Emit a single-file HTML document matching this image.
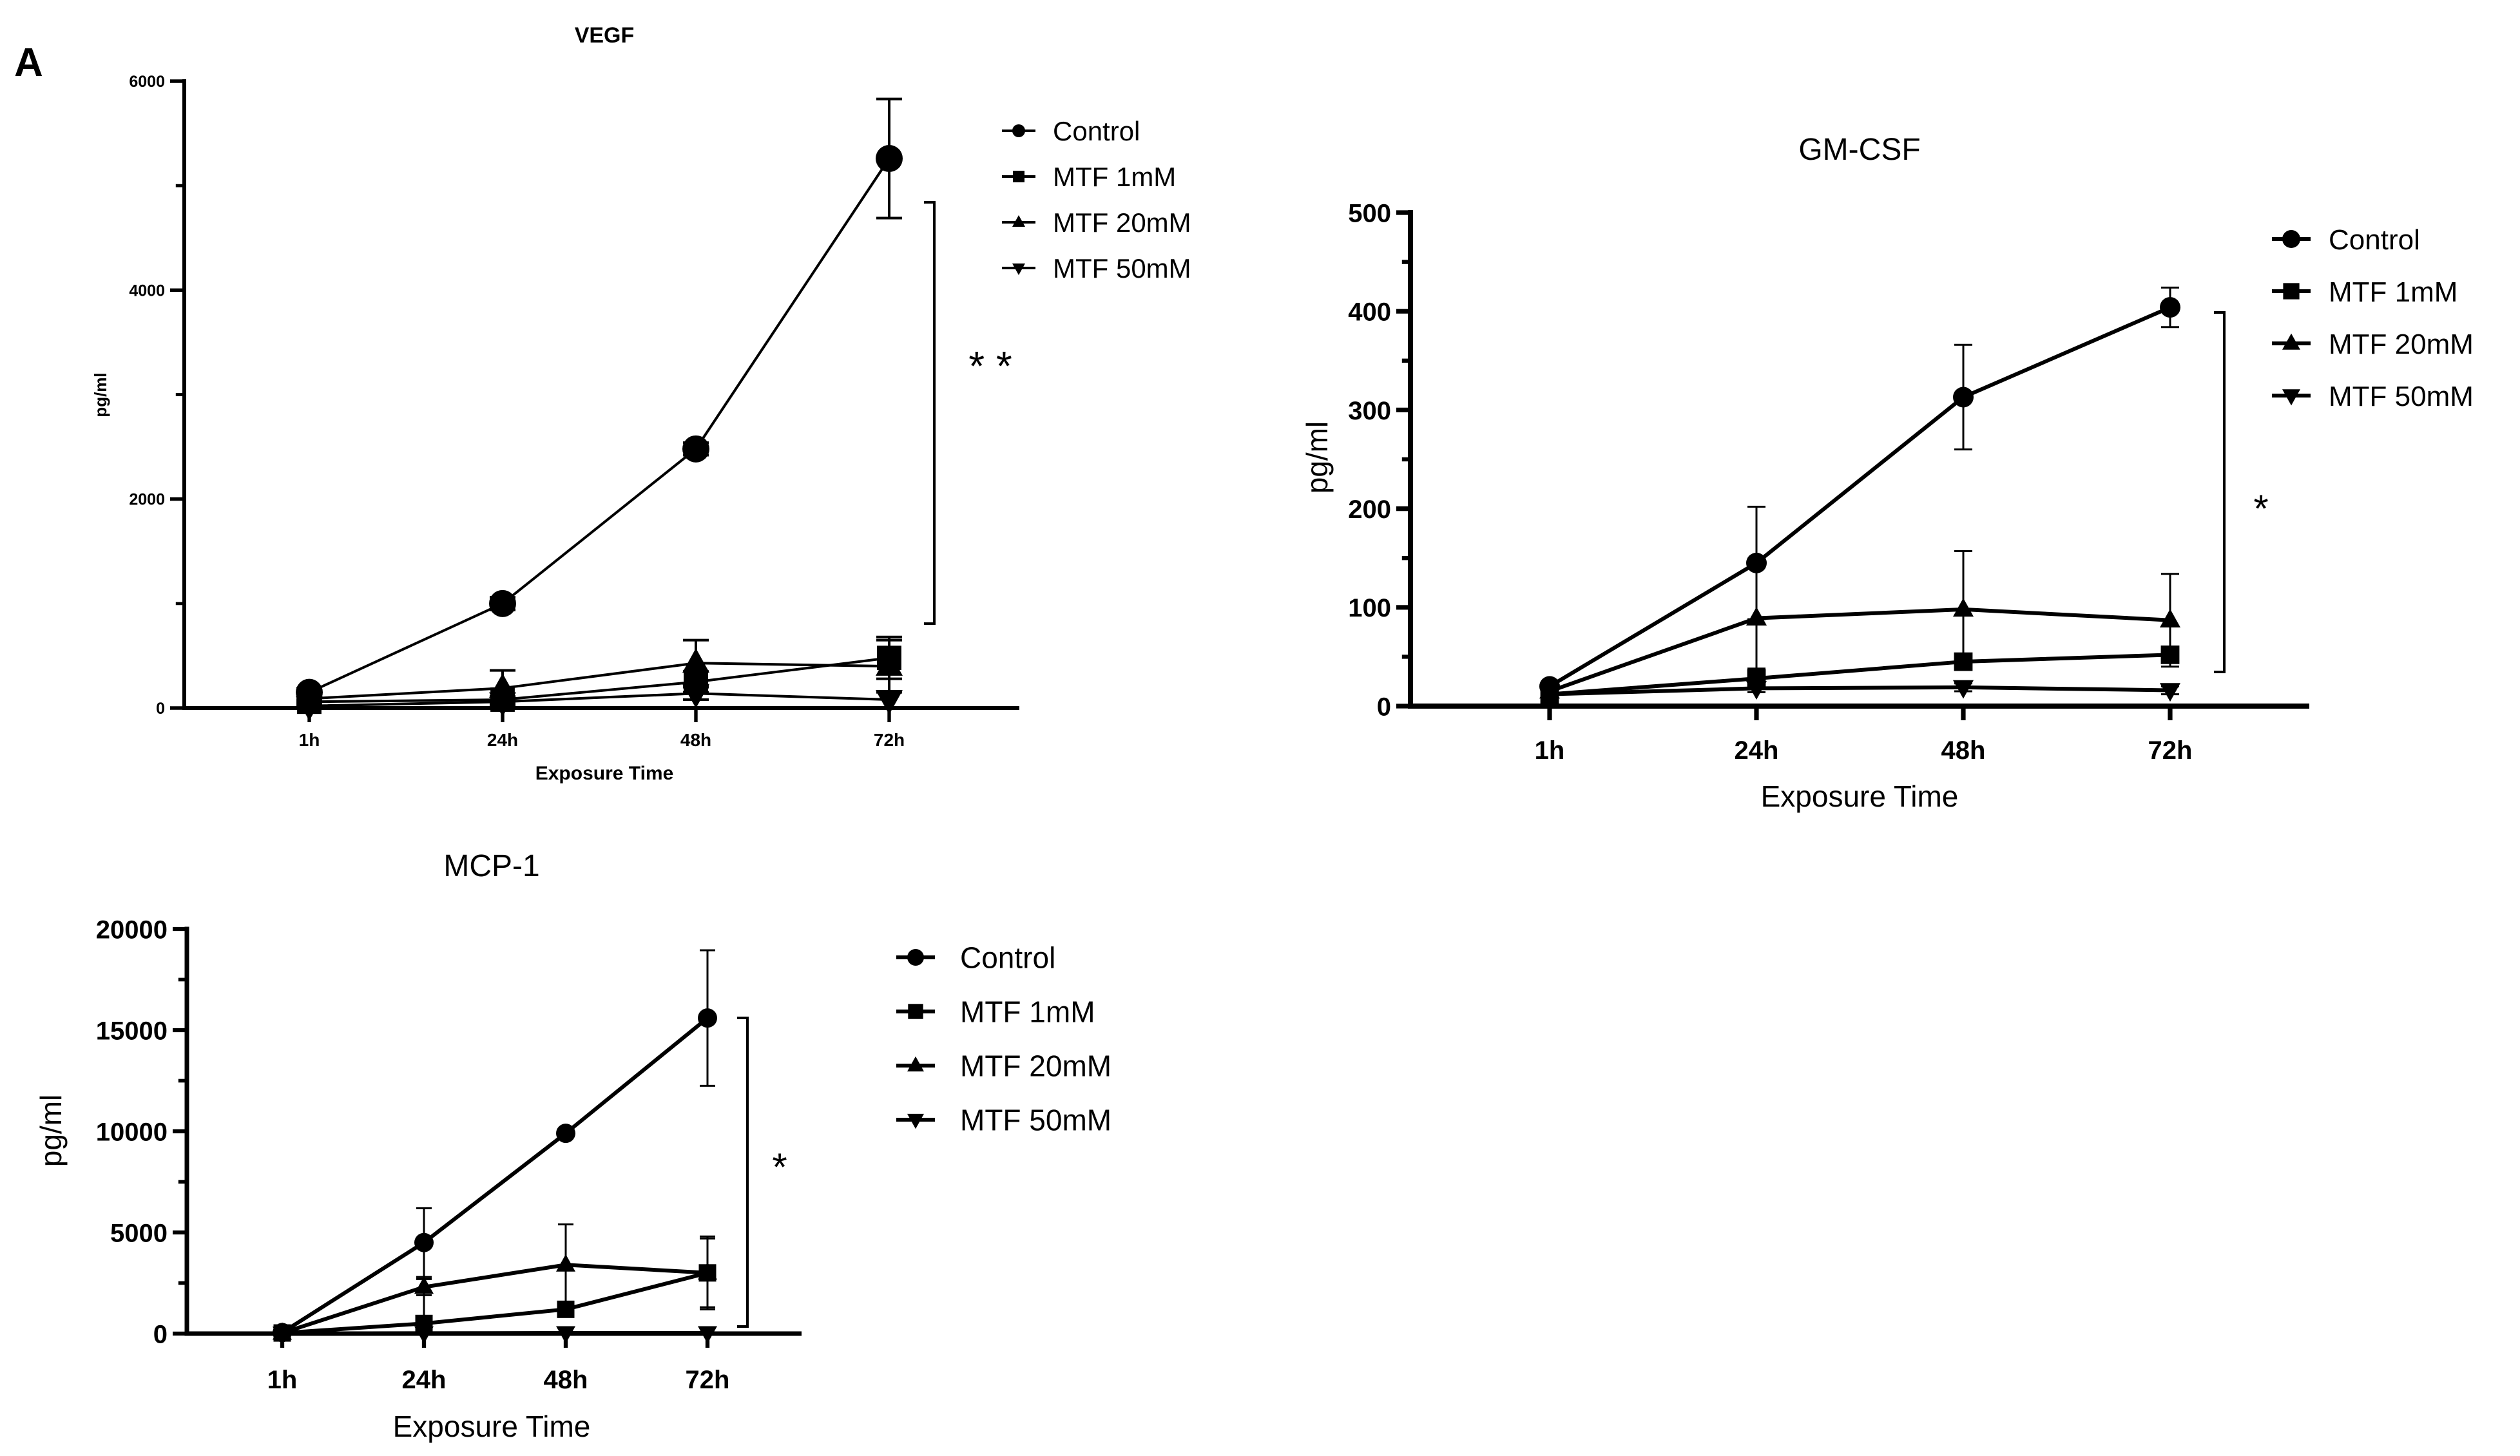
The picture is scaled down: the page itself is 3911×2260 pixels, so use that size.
<!DOCTYPE html>
<html><head><meta charset="utf-8">
<style>
html,body{margin:0;padding:0;background:#fff;}
svg{display:block;font-family:"Liberation Sans",Arial,sans-serif;}
</style></head>
<body>
<svg id="fig" width="3911" height="2260" viewBox="0 0 3911 2260" xmlns="http://www.w3.org/2000/svg">
<text x="22" y="118" font-size="62" font-weight="bold">A</text>
</svg>
<script>
const categories = ["1h","24h","48h","72h"];
const seriesNames = ["Control","MTF 1mM","MTF 20mM","MTF 50mM"];
const markers = ["circle","square","triangle","down"];

const vegfControl = [150, 1000, 2480, 5260];
const vegfControlErr = [40, 60, 60, 570];
const vegf1 = [60, 80, 250, 480];
const vegf1Err = [20, 30, 100, 200];
const vegf20 = [90, 190, 430, 400];
const vegf20Err = [30, 170, 220, 250];
const vegf50 = [20, 60, 140, 80];
const vegf50Err = [10, 20, 60, 80];
const vegfTicks = [0, 2000, 4000, 6000];

const gmControl = [20, 145, 313, 404];
const gmControlErr = [4, 57, 53, 20];
const gm1 = [12, 28, 45, 52];
const gm1Err = [3, 10, 8, 8];
const gm20 = [15, 89, 98, 87];
const gm20Err = [3, 60, 59, 47];
const gm50 = [12, 18, 19, 16];
const gm50Err = [3, 4, 4, 4];
const gmTicks = [0, 100, 200, 300, 400, 500];

const mcpControl = [50, 4500, 9900, 15600];
const mcpControlErr = [20, 1700, 200, 3350];
const mcp1 = [30, 500, 1200, 3000];
const mcp1Err = [10, 2200, 300, 1700];
const mcp20 = [30, 2300, 3400, 3000];
const mcp20Err = [10, 400, 2000, 1800];
const mcp50 = [10, 20, 30, 30];
const mcp50Err = [5, 5, 5, 5];
const mcpTicks = [0, 5000, 10000, 15000, 20000];

const svg = document.getElementById('fig');
const NS = "http://www.w3.org/2000/svg";
function el(tag, attrs, parent){
  const e = document.createElementNS(NS, tag);
  for (const k in attrs) e.setAttribute(k, attrs[k]);
  (parent||svg).appendChild(e);
  return e;
}
function txt(x,y,s,size,weight,anchor,parent){
  const t = el('text',{x:x,y:y,'font-size':size,'font-weight':weight,'text-anchor':anchor},parent);
  t.textContent = s;
  return t;
}
function marker(g, type, x, y, r){
  let m;
  if (type==="circle") m = el('circle',{cx:x,cy:y,r:r,fill:'#000'},g);
  else if (type==="square") m = el('rect',{x:x-r*0.9,y:y-r*0.9,width:r*1.8,height:r*1.8,fill:'#000'},g);
  else if (type==="triangle") m = el('polygon',{points:`${x},${y-r*1.1} ${x-r},${y+r*0.7} ${x+r},${y+r*0.7}`,fill:'#000'},g);
  else m = el('polygon',{points:`${x},${y+r*1.1} ${x-r},${y-r*0.7} ${x+r},${y-r*0.7}`,fill:'#000'},g);
  return m;
}

function drawChart(c){
  const g = el('g',{});
  
  
  const ymax = c.ticks[c.ticks.length-1];
  const Y = v => c.y0 - (v/ymax)*(c.y0-c.yTop);
  const X = i => c.x0 + c.xStart + i*c.xStep;
  const t = txt(c.titleX, c.titleY, c.title, c.titleSize, c.titleWeight, 'middle', g);
  
  
  const ya = el('line',{x1:c.x0,y1:c.yTop-c.axW/2,x2:c.x0,y2:c.y0,stroke:'#000','stroke-width':c.axW},g);
  
  
  const xa = el('line',{x1:c.x0-c.axW/2,y1:c.y0,x2:c.xEnd,y2:c.y0,stroke:'#000','stroke-width':c.axW},g);
  
  
  c.ticks.forEach((v,i)=>{
    const y = Y(v);
    el('line',{x1:c.x0-c.tickL,y1:y,x2:c.x0,y2:y,stroke:'#000','stroke-width':c.axW*0.9},g);
    const tl = txt(c.x0-c.tickL-8, y+c.tickSize*0.36, String(v), c.tickSize, 'bold', 'end', g);
    
    
    if (i < c.ticks.length-1){
      const ym = Y((v + c.ticks[i+1])/2);
      el('line',{x1:c.x0-c.tickL*0.6,y1:ym,x2:c.x0,y2:ym,stroke:'#000','stroke-width':c.axW*0.8},g);
    }
  });
  categories.forEach((s,i)=>{
    const x = X(i);
    el('line',{x1:x,y1:c.y0,x2:x,y2:c.y0+c.tickL,stroke:'#000','stroke-width':c.axW*0.9},g);
    const xl = txt(x, c.xLabY, s, c.xLabSize, 'bold', 'middle', g);
    
    
  });
  const xt = txt(c.titleX2, c.xTitleY, 'Exposure Time', c.axTitleSize, c.axTitleWeight, 'middle', g);
  
  
  const yt = txt(0,0,'pg/ml', c.yTitleSize, c.axTitleWeight, 'middle', g);
  yt.setAttribute('transform', `translate(${c.yTitleX},${c.yTitleY}) rotate(-90)`);
  
  
  c.series.forEach((vals,si)=>{
    const sg = el('g',{},g);
    
    
    const errs = c.errs[si];
    vals.forEach((v,i)=>{
      const x = X(i), hi = Y(v+errs[i]), lo = Y(Math.max(0,v-errs[i]));
      el('line',{x1:x,y1:hi,x2:x,y2:lo,stroke:'#000','stroke-width':c.errW},sg);
      el('line',{x1:x-c.cap,y1:hi,x2:x+c.cap,y2:hi,stroke:'#000','stroke-width':c.errW},sg);
      el('line',{x1:x-c.cap,y1:lo,x2:x+c.cap,y2:lo,stroke:'#000','stroke-width':c.errW},sg);
    });
    const pts = vals.map((v,i)=>X(i)+','+Y(v)).join(' ');
    const pl = el('polyline',{points:pts,fill:'none',stroke:'#000','stroke-width':c.lineW},sg);
    
    
    vals.forEach((v,i)=>{
      const m = marker(sg, markers[si], X(i), Y(v), c.mr);
      
      
    });
  });
  seriesNames.forEach((s,i)=>{
    const lg = el('g',{},g);
    
    
    const y = c.legY + i*c.legStep;
    el('line',{x1:c.legX-c.legHalf,y1:y,x2:c.legX+c.legHalf,y2:y,stroke:'#000','stroke-width':c.lineW},lg);
    marker(lg, markers[i], c.legX, y, c.legR);
    txt(c.legTX, y+c.legSize*0.36, s, c.legSize, 'normal', 'start', lg);
  });
  const br = el('polyline',{points:`${c.brX-16},${c.brTop} ${c.brX},${c.brTop} ${c.brX},${c.brBot} ${c.brX-16},${c.brBot}`,fill:'none',stroke:'#000','stroke-width':4},g);
  
  
  const st = txt(c.starX, c.starY, c.star, c.starSize, 'normal', 'middle', g);
  
  
}

drawChart({name:'vegf', title:'VEGF', titleX:938, titleY:66, titleSize:34, titleWeight:'bold',
  x0:286, yTop:126, y0:1099, xStart:194, xStep:300, xEnd:1582, ticks:vegfTicks,
  axW:6, tickL:22, tickSize:25, xLabY:1158, xLabSize:28, titleX2:938, xTitleY:1210, axTitleSize:30, axTitleWeight:'bold',
  yTitleX:165, yTitleY:613, yTitleSize:26,
  series:[vegfControl,vegf1,vegf20,vegf50], errs:[vegfControlErr,vegf1Err,vegf20Err,vegf50Err],
  errW:4, cap:20, lineW:4, mr:21,
  legX:1581, legTX:1634, legY:203, legStep:71, legHalf:26, legR:10, legSize:42,
  brX:1450, brTop:314, brBot:968, starX:1537, starY:590, star:'* *', starSize:64});

drawChart({name:'gm-csf', title:'GM-CSF', titleX:2886, titleY:248, titleSize:48, titleWeight:'normal',
  x0:2189, yTop:330, y0:1096, xStart:216, xStep:321, xEnd:3584, ticks:gmTicks,
  axW:8, tickL:22, tickSize:40, xLabY:1178, xLabSize:40, titleX2:2886, xTitleY:1252, axTitleSize:46, axTitleWeight:'normal',
  yTitleX:2060, yTitleY:710, yTitleSize:46,
  series:[gmControl,gm1,gm20,gm50], errs:[gmControlErr,gm1Err,gm20Err,gm50Err],
  errW:3, cap:14, lineW:6, mr:16,
  legX:3556, legTX:3614, legY:371, legStep:81, legHalf:30, legR:14, legSize:44,
  brX:3452, brTop:485, brBot:1043, starX:3509, starY:810, star:'*', starSize:60});

drawChart({name:'mcp-1', title:'MCP-1', titleX:763, titleY:1360, titleSize:48, titleWeight:'normal',
  x0:290, yTop:1442, y0:2070, xStart:148, xStep:220, xEnd:1244, ticks:mcpTicks,
  axW:7, tickL:22, tickSize:40, xLabY:2155, xLabSize:40, titleX2:763, xTitleY:2230, axTitleSize:46, axTitleWeight:'normal',
  yTitleX:95, yTitleY:1755, yTitleSize:46,
  series:[mcpControl,mcp1,mcp20,mcp50], errs:[mcpControlErr,mcp1Err,mcp20Err,mcp50Err],
  errW:3, cap:12, lineW:6, mr:15,
  legX:1421, legTX:1490, legY:1486, legStep:84, legHalf:30, legR:13, legSize:46,
  brX:1160, brTop:1580, brBot:2059, starX:1210, starY:1832, star:'*', starSize:60});
</script>
</body></html>
